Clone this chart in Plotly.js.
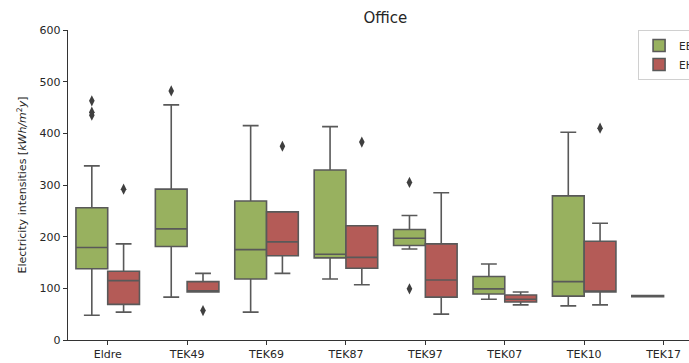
<!DOCTYPE html>
<html>
<head>
<meta charset="utf-8">
<script src="https://cdn.plot.ly/plotly-3.0.1.min.js"></script>
<style>html,body{margin:0;padding:0;background:#fff;}#chart{width:689px;height:363px;}</style>
</head>
<body>
<div id="chart"></div>
<script>
var categories = ["Eldre", "TEK49", "TEK69", "TEK87", "TEK97", "TEK07", "TEK10", "TEK17"];

// EB series (all 8 categories)
var ebCats = ["Eldre", "TEK49", "TEK69", "TEK87", "TEK97", "TEK07", "TEK10", "TEK17"];
var ebQ1 = [138, 181, 118, 159, 183, 89, 85, 84];
var ebMedian = [179, 215, 175, 166, 197, 99, 113, 85];
var ebQ3 = [256, 292, 269, 329, 214, 123, 279, 86];
var ebLower = [48, 83, 54, 118, 176, 79, 66, 84];
var ebUpper = [337, 455, 415, 413, 241, 147, 402, 86];
var ebOutliers = [[463, 441, 435], [482], [], [], [305, 99], [], [], []];

// EH series (no TEK17 data)
var ehCats = ["Eldre", "TEK49", "TEK69", "TEK87", "TEK97", "TEK07", "TEK10"];
var ehQ1 = [69, 93, 163, 139, 83, 73.5, 93];
var ehMedian = [115, 95, 190, 160, 116, 79, 94];
var ehQ3 = [133, 113, 248, 221, 186, 87, 191];
var ehLower = [54, 93, 129, 107, 50, 68, 68];
var ehUpper = [186, 129, 248, 221, 285, 93, 226];
var ehOutliers = [[292], [57], [375], [383], [], [], [410]];

var yTicks = [0, 100, 200, 300, 400, 500, 600];

var edge = "#595959";
function boxTrace(name, cats, q1, med, q3, lo, up, outl, fill) {
  return {
    type: "box", name: name, x: cats, y: outl,
    q1: q1, median: med, q3: q3, lowerfence: lo, upperfence: up,
    boxpoints: "outliers", pointpos: 0, jitter: 0,
    fillcolor: fill,
    line: {color: edge, width: 1.6},
    whiskerwidth: 0.5,
    marker: {symbol: "diamond-tall", size: 8, color: "#3f3f3f", line: {width: 0}},
    hoverinfo: "skip"
  };
}

var data = [
  boxTrace("EB", ebCats, ebQ1, ebMedian, ebQ3, ebLower, ebUpper, ebOutliers, "#98b15f"),
  boxTrace("EH", ehCats, ehQ1, ehMedian, ehQ3, ehLower, ehUpper, ehOutliers, "#b45b57")
];

var font = {family: "DejaVu Sans, sans-serif", size: 11, color: "#262626"};
var layout = {
  width: 689, height: 363,
  margin: {l: 68, r: 0, t: 30, b: 23, autoexpand: false},
  paper_bgcolor: "#fff", plot_bgcolor: "#fff",
  font: font,
  boxmode: "group", boxgap: 0.2, boxgroupgap: 0,
  title: {text: "Office", font: {family: "DejaVu Sans, sans-serif", size: 15, color: "#262626"},
          x: 0.511, xref: "paper", xanchor: "center", y: 0.95, yref: "container", yanchor: "middle"},
  xaxis: {
    type: "category", categoryorder: "array", categoryarray: categories,
    range: [-0.5, 7.32], showline: true, linecolor: "#333", linewidth: 1.2,
    ticks: "outside", ticklen: 4, tickcolor: "#333", showgrid: false, zeroline: false,
    tickfont: font, fixedrange: true
  },
  yaxis: {
    range: [0, 600], tickvals: yTicks, ticktext: yTicks.map(String),
    showline: true, linecolor: "#333", linewidth: 1.2,
    ticks: "outside", ticklen: 4, tickcolor: "#333", showgrid: false, zeroline: false,
    tickfont: font,
    title: {text: "Electricity intensities [<i>kWh/m</i><sup>2</sup><i>y</i>]", font: font, standoff: 10}
  },
  showlegend: true,
  legend: {
    x: 0.918, y: 1.0, xanchor: "left", yanchor: "top",
    bordercolor: "#d0d0d0", borderwidth: 1, bgcolor: "rgba(255,255,255,0.8)",
    font: {family: "DejaVu Sans, sans-serif", size: 10.5, color: "#262626"}, tracegroupgap: 0
  }
};

Plotly.newPlot("chart", data, layout, {displayModeBar: false, staticPlot: true});
</script>
</body>
</html>
